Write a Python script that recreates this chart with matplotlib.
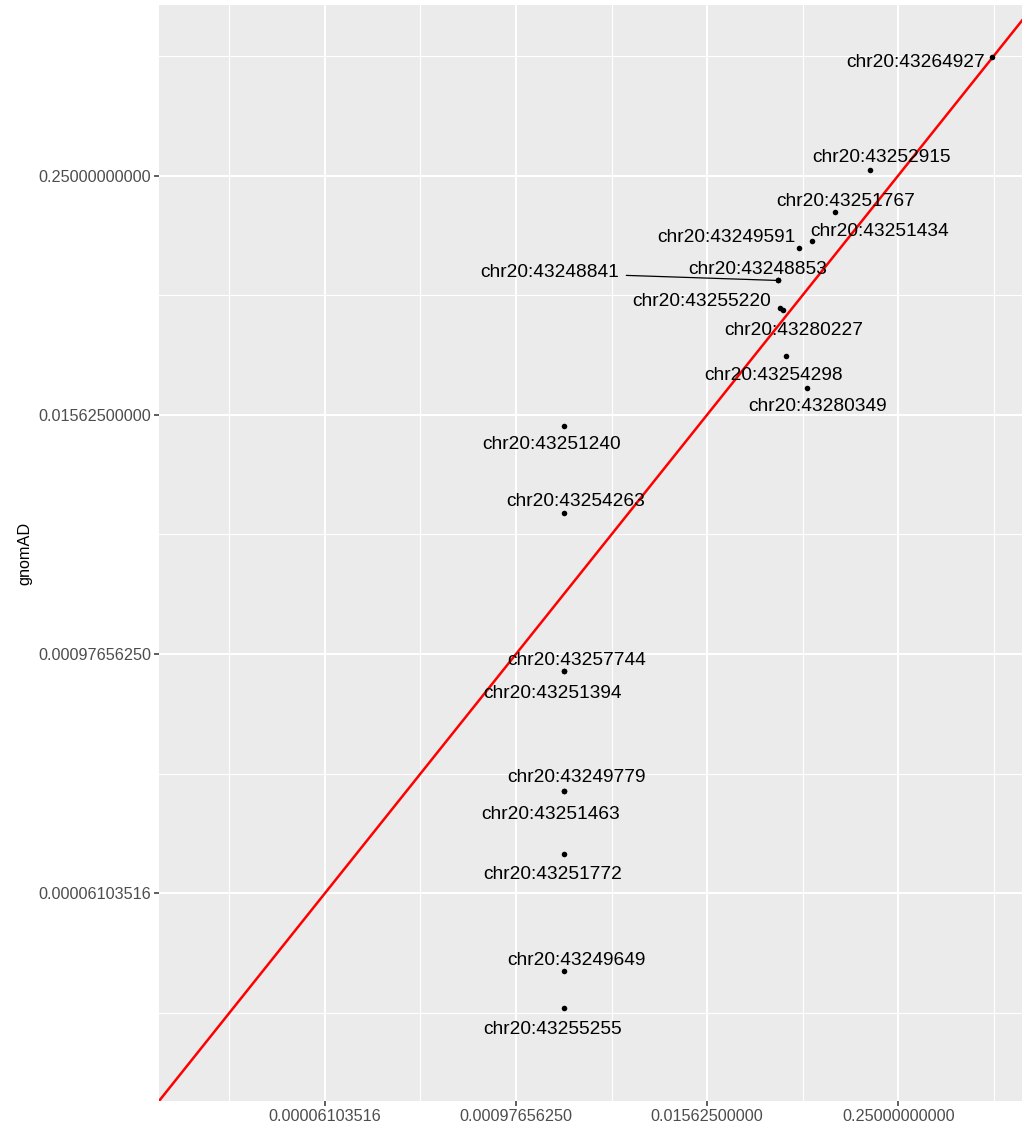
import numpy as np
import matplotlib.pyplot as plt
from matplotlib.ticker import FixedLocator, NullFormatter

plt.rcParams['font.family'] = ['Liberation Sans', 'DejaVu Sans']

# variant ids, cohort frequency (x) and gnomAD frequency (y)
variants = ['chr20:43264927', 'chr20:43252915', 'chr20:43251767', 'chr20:43251434',
            'chr20:43249591', 'chr20:43248853', 'chr20:43248841', 'chr20:43255220',
            'chr20:43280227', 'chr20:43254298', 'chr20:43280349', 'chr20:43251240',
            'chr20:43254263', 'chr20:43257744', 'chr20:43251394', 'chr20:43249779',
            'chr20:43251463', 'chr20:43251772', 'chr20:43249649', 'chr20:43255255']
cohort = [0.978, 0.1650, 0.1002, 0.0718, 0.0596, 0.0436, 0.0437, 0.0448,
          0.0471, 0.0488, 0.0665, 0.00195, 0.00195, 0.00195, 0.00195, 0.00195,
          0.00195, 0.00195, 0.00195, 0.00195]
gnomad = [0.991, 0.2671, 0.1636, 0.1166, 0.1080, 0.0745, 0.0741, 0.0538,
          0.0526, 0.0310, 0.0213, 0.0137, 0.00503, 0.000804, 0.000804, 0.000201,
          0.000201, 0.0000959, 0.0000247, 0.0000162]

# label placement (pixels from the point, label centre)
offsets = [(-77, -3), (12, 15), (10, 13), (67, 12), (-73, 13), (-20, 13),
           (-228, 10), (-78, 9), (11, -18), (-12, -17), (11, -16), (-12, -16),
           (12, 14), (13, 13), (-11, -20), (13, 15), (-13, -22), (-11, -18),
           (13, 13), (-11, -19)]

major = [2.0**-14, 2.0**-10, 2.0**-6, 2.0**-2]
minor = [2.0**-16, 2.0**-12, 2.0**-8, 2.0**-4, 2.0**0]
tick_labels = ['0.00006103516', '0.00097656250', '0.01562500000', '0.25000000000']

fig = plt.figure(figsize=(10.22, 11.31), dpi=100)
ax = fig.add_axes([159 / 1022, 1 - 1101 / 1131, (1022 - 159) / 1022, (1101 - 5) / 1131])
ax.set_facecolor('#EBEBEB')
ax.set_xscale('log', base=2)
ax.set_yscale('log', base=2)
lo = 2.0**-17.47
ax.set_xlim(lo, 2.0**0.59)
ax.set_ylim(lo, 2.0**0.85)

ax.xaxis.set_major_locator(FixedLocator(major))
ax.yaxis.set_major_locator(FixedLocator(major))
ax.xaxis.set_minor_locator(FixedLocator(minor))
ax.yaxis.set_minor_locator(FixedLocator(minor))
ax.xaxis.set_minor_formatter(NullFormatter())
ax.yaxis.set_minor_formatter(NullFormatter())
ax.set_xticklabels(tick_labels)
ax.set_yticklabels(tick_labels)
ax.grid(which='major', color='white', lw=1.5)
ax.grid(which='minor', color='white', lw=0.8)
ax.set_axisbelow(True)
ax.tick_params(which='major', length=3.5, width=1.1, color='#333333',
               labelsize=11.7, labelcolor='#4D4D4D', pad=2)
ax.tick_params(which='minor', length=0)
for s in ax.spines.values():
    s.set_visible(False)
ax.set_ylabel('gnomAD', fontsize=11.7, color='black', labelpad=4)

# y = x reference
ax.plot([lo, 2.0], [lo, 2.0], color='#FF0000', lw=1.8, zorder=2)
ax.scatter(cohort, gnomad, s=16, color='black', zorder=3, linewidths=0)

fs = 13.8
base = 0.36 * fs * 100 / 72  # centre -> baseline shift in pixels
for name, x, y, (dx, dy) in zip(variants, cohort, gnomad, offsets):
    far = abs(dx) > 150
    ax.annotate(name, (x, y), xytext=(dx, dy - base), textcoords='offset pixels',
                ha='center', va='baseline', fontsize=fs, color='black', zorder=4,
                arrowprops=dict(arrowstyle='-', color='black', lw=0.9,
                                shrinkA=3, shrinkB=1) if far else None)

fig.savefig('out.png', dpi=100)
